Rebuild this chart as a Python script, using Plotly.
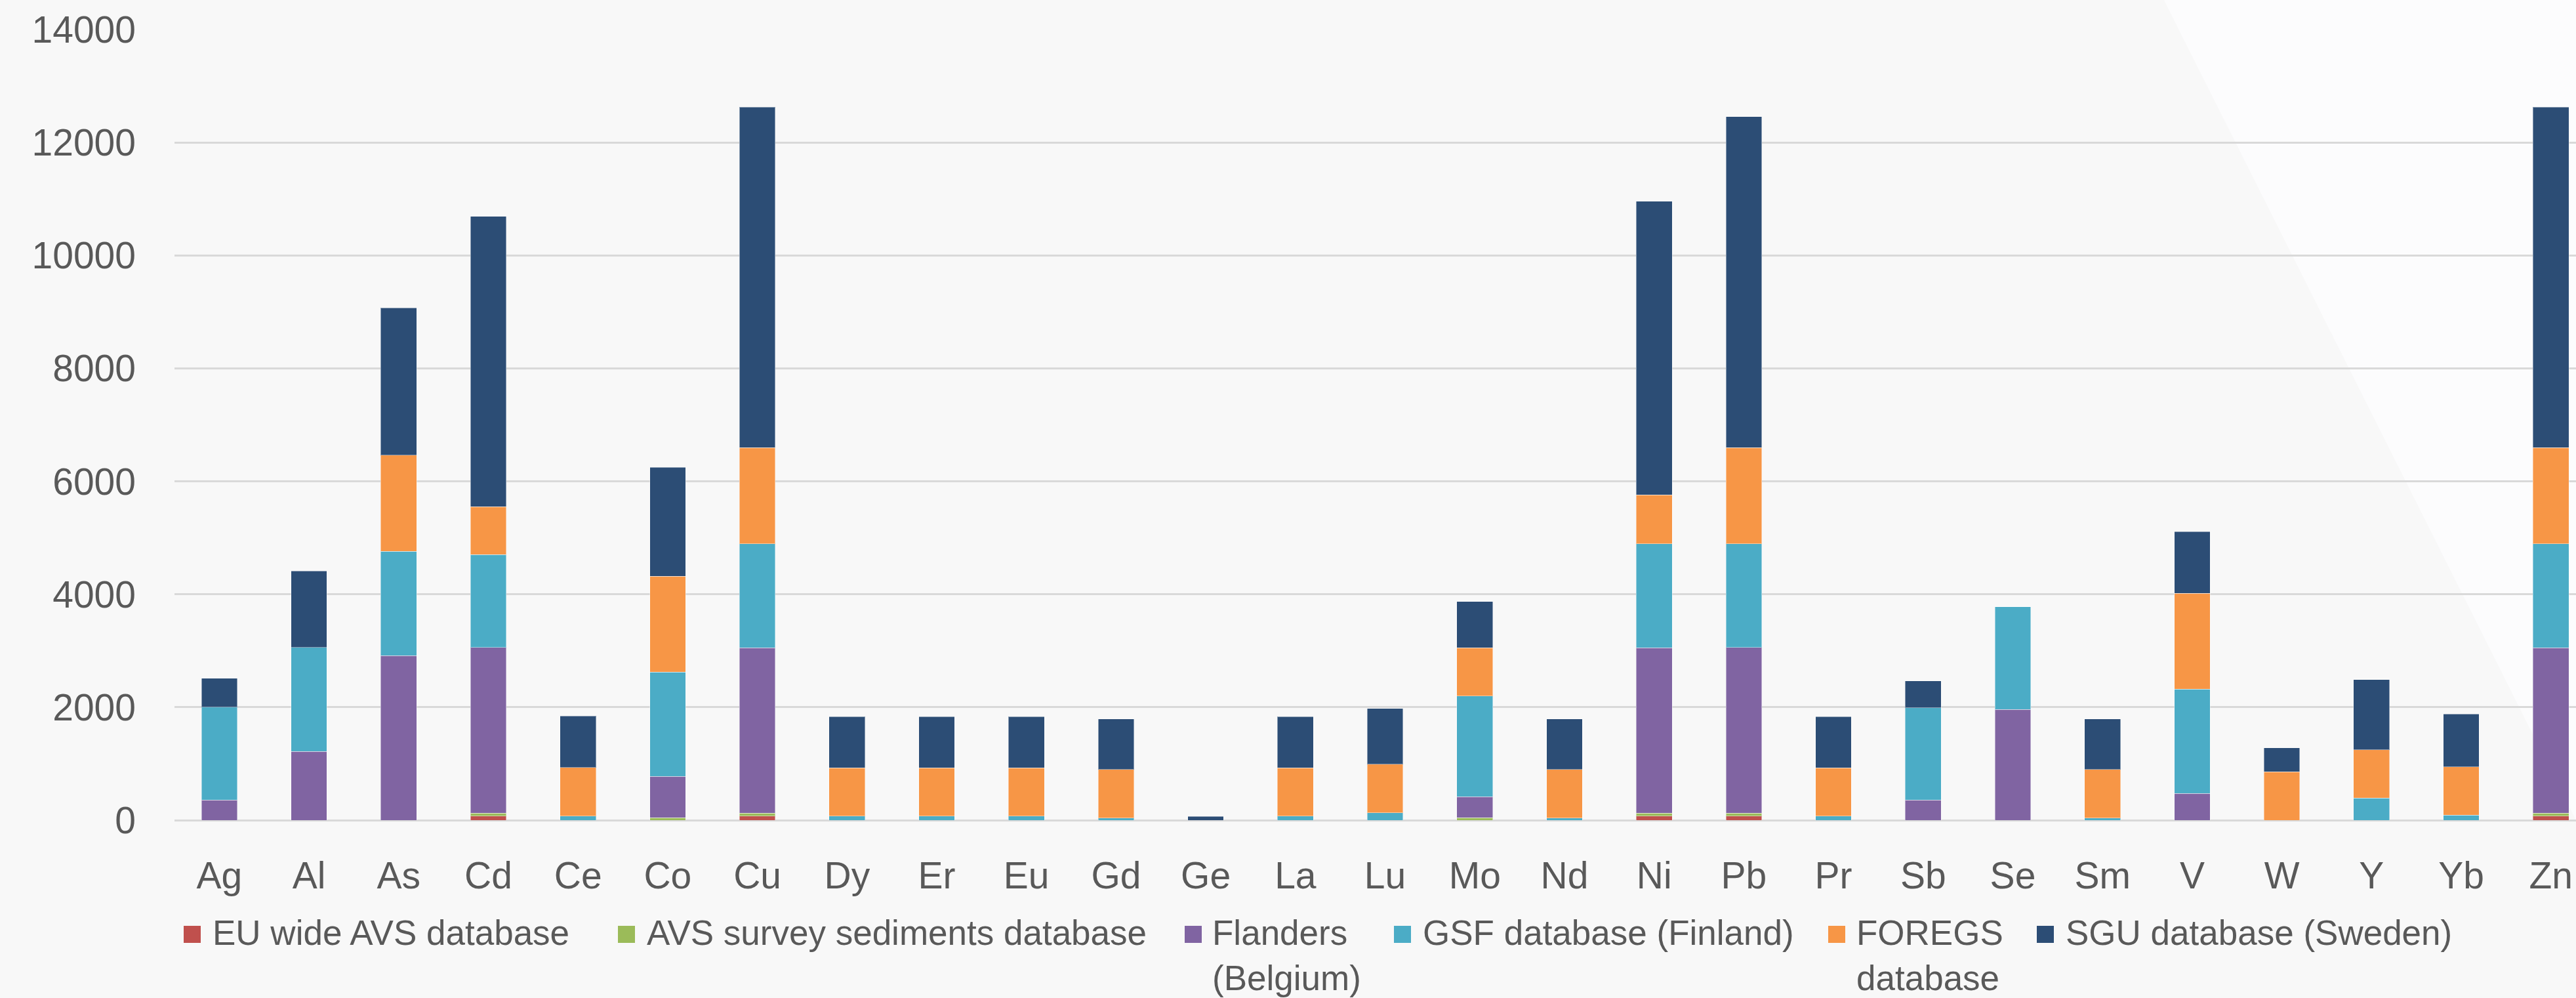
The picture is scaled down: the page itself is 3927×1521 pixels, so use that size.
import plotly.graph_objects as go

categories = ["Ag", "Al", "As", "Cd", "Ce", "Co", "Cu", "Dy", "Er", "Eu", "Gd", "Ge", "La", "Lu",
              "Mo", "Nd", "Ni", "Pb", "Pr", "Sb", "Se", "Sm", "V", "W", "Y", "Yb", "Zn"]

eu_wide_avs = [0, 0, 0, 70, 0, 0, 70, 0, 0, 0, 0, 0, 0, 0,
               0, 0, 70, 70, 0, 0, 0, 0, 0, 0, 0, 0, 70]
avs_survey = [0, 0, 0, 55, 0, 45, 55, 0, 0, 0, 0, 0, 0, 0,
              45, 0, 55, 55, 0, 0, 0, 0, 0, 0, 0, 0, 55]
flanders = [360, 1215, 2915, 2936, 0, 731, 2925, 0, 0, 0, 0, 0, 0, 0,
            371, 0, 2925, 2936, 0, 360, 1958, 0, 473, 0, 0, 0, 2925]
gsf = [1640, 1845, 1845, 1643, 70, 1846, 1845, 70, 70, 70, 35, 0, 70, 130,
       1780, 35, 1845, 1834, 70, 1632, 1823, 35, 1845, 0, 394, 90, 1845]
foregs = [0, 0, 1700, 844, 864, 1698, 1700, 855, 855, 855, 865, 0, 855, 860,
          855, 865, 865, 1700, 855, 0, 0, 865, 1700, 855, 855, 855, 1700]
sgu = [510, 1350, 2610, 5142, 911, 1925, 6033, 910, 910, 910, 890, 65, 910, 990,
       820, 890, 5200, 5864, 910, 472, 0, 890, 1092, 428, 1238, 934, 6033]

series_names = ["EU wide AVS database", "AVS survey sediments database", "Flanders<br>(Belgium)",
                "GSF database (Finland)", "FOREGS<br>database", "SGU database (Sweden)"]
series_values = [eu_wide_avs, avs_survey, flanders, gsf, foregs, sgu]
series_colors = ["#C0504D", "#9BBB59", "#8064A2", "#4BACC6", "#F79646", "#2C4D75"]

y_ticks = [0, 2000, 4000, 6000, 8000, 10000, 12000, 14000]

FONT = "Liberation Sans, Arial, sans-serif"
TXT = "#595959"

W, H = 3927, 1521
ML, MR, MT, MB = 266, 0, 45, 271
PW, PH = W - ML - MR, H - MT - MB


def px_x(p):
    return (p - ML) / PW


def px_y(p):
    return (H - MB - p) / PH


fig = go.Figure()
for name, vals, col in zip(series_names, series_values, series_colors):
    fig.add_trace(go.Bar(
        x=categories, y=vals, name=name, showlegend=False,
        marker=dict(color=col, line=dict(width=1, color="rgba(255,255,255,0.45)")),
    ))

# legend drawn as keys + text below the plot (layout positions, in pixels)
legend_key_left = [280, 942, 1806, 2125, 2787, 3105]
legend_text_left = [322, 984, 1846, 2167, 2828, 3147]
KEY = 26
KEY_TOP = 1411
TEXT_TOP = 1390

shapes = [dict(
    type="path", xref="paper", yref="paper", layer="below",
    path="M 0.828 1.04 L 1.0 1.04 L 1.0 0 Z",
    fillcolor="#FCFCFD", line=dict(width=0),
)]
annotations = []
for name, col, kx, tx in zip(series_names, series_colors, legend_key_left, legend_text_left):
    shapes.append(dict(
        type="rect", xref="paper", yref="paper",
        x0=px_x(kx), x1=px_x(kx + KEY), y0=px_y(KEY_TOP + KEY), y1=px_y(KEY_TOP),
        fillcolor=col, line=dict(width=0),
    ))
    annotations.append(dict(
        text=name, xref="paper", yref="paper", x=px_x(tx), y=px_y(TEXT_TOP),
        xanchor="left", yanchor="top", align="left", showarrow=False,
        font=dict(family=FONT, size=53, color=TXT),
    ))

fig.update_layout(
    width=W, height=H,
    barmode="stack", bargap=0.6,
    paper_bgcolor="#F8F8F8", plot_bgcolor="rgba(0,0,0,0)",
    margin=dict(l=ML, r=MR, t=MT, b=MB, autoexpand=False),
    font=dict(family=FONT, color=TXT, size=56),
    showlegend=False,
    shapes=shapes,
    annotations=annotations,
)
fig.update_xaxes(
    type="category", range=[-0.5, 26.28], showgrid=False, showline=False,
    ticks="", ticklabelstandoff=46, tickfont=dict(size=57, color=TXT),
)
fig.update_yaxes(
    range=[0, 14000], tickvals=y_ticks, tickformat="d", showgrid=True, gridcolor="#D9D9D9",
    gridwidth=3, zeroline=True, zerolinecolor="#D9D9D9", zerolinewidth=3, showline=False,
    ticks="", ticklabelstandoff=58, tickfont=dict(size=57, color=TXT),
)

fig.write_html(
    "out.html",
    config={"displayModeBar": False},
    post_script="document.body.style.margin='0';document.body.style.background='#F8F8F8';",
)
